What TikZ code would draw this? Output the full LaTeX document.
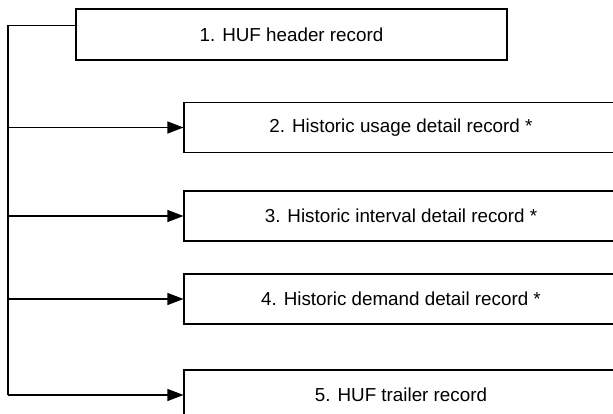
\documentclass[tikz,border=0pt]{standalone}
\usepackage{fontspec}
\setmainfont{Liberation Sans}
\usepackage{tikz}
\usetikzlibrary{positioning, arrows.meta, calc}

\begin{document}
\begin{tikzpicture}[
  rec/.style={rectangle, draw, line width=0.6pt, minimum height=1.0cm, font=\fontsize{10.7}{13}\selectfont, align=center, inner sep=0pt},
  hdrbox/.style={rec, minimum width=8.62cm, minimum height=1.02cm},
  detbox/.style={rec, minimum width=8.68cm},
  line/.style={line width=0.6pt},
  arr/.style={-{Triangle[length=0.32cm, width=0.24cm]}, line width=0.6pt}
]
  \clip (0,0) rectangle (12.26,8.28);

  \node[hdrbox] (hdr) at (5.83, 7.59) {1. HUF header record};
  \node[detbox] (usage) at (8.02, 5.73) {2. Historic usage detail record *};
  \node[detbox] (interval) at (8.02, 3.96) {3. Historic interval detail record *};
  \node[detbox] (demand) at (8.02, 2.30) {4. Historic demand detail record *};
  \node[detbox] (trailer) at (8.02, 0.38) {5. HUF trailer record};

  % left bus
  \coordinate (hdrin) at ($(hdr.north west)!0.33!(hdr.south west)$);
  \coordinate (bus) at (0.16, 0);
  \draw[line] (hdrin) -- (hdrin -| bus) -- (bus |- trailer.west);

  \draw[arr] (bus |- usage.west) -- (usage.west);
  \draw[arr] (bus |- interval.west) -- (interval.west);
  \draw[arr] (bus |- demand.west) -- (demand.west);
  \draw[arr] (bus |- trailer.west) -- (trailer.west);
\end{tikzpicture}
\end{document}
